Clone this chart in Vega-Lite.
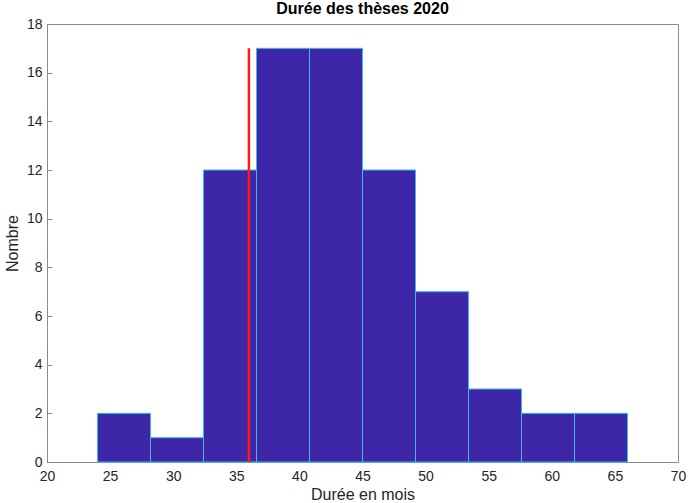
{
  "$schema": "https://vega.github.io/schema/vega-lite/v6.json",
  "autosize": {"type": "none"},
  "width": 631,
  "height": 438,
  "padding": {"left": 47, "top": 24, "right": 11, "bottom": 41},
  "background": "white",
  "title": {"text": "Durée des thèses 2020", "fontSize": 16, "fontWeight": "bold", "font": "Liberation Sans", "color": "#000000", "anchor": "middle", "offset": 5, "dy": 5},
  "config": {
    "view": {"stroke": "#8c8c8c", "strokeWidth": 1},
    "axis": {"font": "Liberation Sans", "labelFont": "Liberation Sans", "titleFont": "Liberation Sans", "labelFontSize": 14, "titleFontSize": 16, "titleFontWeight": "normal", "labelColor": "#262626", "titleColor": "#262626", "domainColor": "#8c8c8c", "tickColor": "#8c8c8c", "grid": false}
  },
  "datasets": {
    "bins": [
      {"start": 24.0, "end": 28.2, "count": 2},
      {"start": 28.2, "end": 32.4, "count": 1},
      {"start": 32.4, "end": 36.6, "count": 12},
      {"start": 36.6, "end": 40.8, "count": 17},
      {"start": 40.8, "end": 45.0, "count": 17},
      {"start": 45.0, "end": 49.2, "count": 12},
      {"start": 49.2, "end": 53.4, "count": 7},
      {"start": 53.4, "end": 57.6, "count": 3},
      {"start": 57.6, "end": 61.8, "count": 2},
      {"start": 61.8, "end": 66.0, "count": 2}
    ],
    "line": [{"x": 36, "y0": 0, "y1": 17}]
  },
  "layer": [
    {
      "data": {"name": "bins"},
      "mark": {"type": "bar", "fill": "#3d26a8", "stroke": "#3bbbe8", "strokeWidth": 1},
      "encoding": {
        "x": {"field": "start", "type": "quantitative", "scale": {"domain": [20, 70], "nice": false, "zero": false}, "axis": {"title": "Durée en mois", "values": [20,25,30,35,40,45,50,55,60,65,70], "tickSize": -5, "labelPadding": 12, "titlePadding": 3, "labelFlush": false}},
        "x2": {"field": "end"},
        "y": {"field": "count", "type": "quantitative", "scale": {"domain": [0, 18], "nice": false}, "axis": {"title": "Nombre", "values": [0,2,4,6,8,10,12,14,16,18], "tickSize": -5, "labelPadding": 10, "titlePadding": 6, "labelFlush": false}},
        "y2": {"datum": 0}
      }
    },
    {
      "data": {"name": "line"},
      "mark": {"type": "rule", "color": "#ff1a1a", "strokeWidth": 2.5},
      "encoding": {
        "x": {"field": "x", "type": "quantitative"},
        "y": {"field": "y0", "type": "quantitative"},
        "y2": {"field": "y1"}
      }
    }
  ]
}
